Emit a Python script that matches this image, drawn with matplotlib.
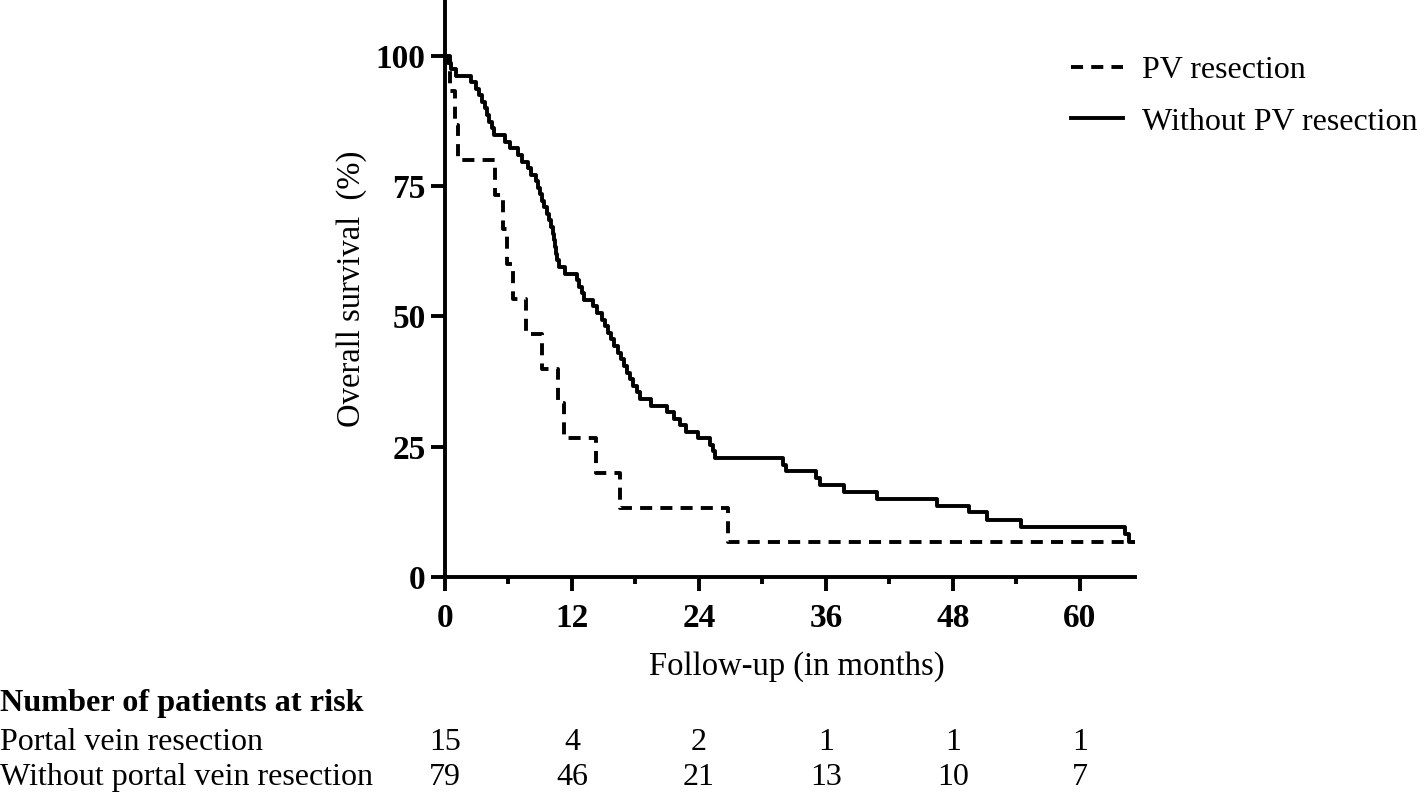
import matplotlib
matplotlib.use("Agg")
import matplotlib.pyplot as plt
from matplotlib.transforms import blended_transform_factory

plt.rcParams["font.family"] = ["Liberation Serif", "DejaVu Serif"]

# Kaplan-Meier steps (months, survival %)
pv_time = [0, 0.5, 0.9, 1.2, 4.7, 5.5, 5.85, 6.4, 7.7, 9.2, 10.7, 11.2,
           14.3, 16.5, 26.7, 65.2]
pv_surv = [100, 93.3, 86.7, 80.0, 73.3, 66.7, 60.0, 53.3, 46.7, 40.0, 33.3,
           26.7, 20.0, 13.3, 6.7, 6.7]

nopv_time = [0, 0.3, 0.6, 1.0, 2.5, 2.9, 3.2, 3.5, 3.8, 4.0, 4.2, 4.4, 4.6,
             5.7, 6.1, 6.9, 7.3, 7.8, 8.1, 8.6, 8.8, 9.0, 9.2, 9.4, 9.6,
             9.8, 10.0, 10.2, 10.3, 10.4, 10.5, 10.6, 10.8, 11.3, 12.5, 12.7,
             12.9, 13.1, 14.0, 14.4, 14.8, 15.1, 15.4, 15.7, 16.0, 16.3,
             16.6, 16.9, 17.2, 17.5, 17.8, 18.1, 18.4, 19.5, 21.0, 21.6,
             22.2, 22.8, 23.9, 25.0, 25.3, 25.5, 31.9, 32.2, 35.1, 35.4,
             37.7, 40.8, 46.5, 49.5, 51.2, 54.4, 64.3, 64.6, 65.2]
nopv_surv = [100, 98.7, 97.5, 96.2, 94.9, 93.7, 92.4, 91.1, 89.9, 88.6, 87.3,
             86.1, 84.8, 83.5, 82.3, 81.0, 79.7, 78.5, 77.2, 75.9, 74.7, 73.4,
             72.2, 70.9, 69.6, 68.4, 67.1, 65.8, 64.6, 63.3, 62.0, 60.8, 59.5,
             58.2, 57.0, 55.7, 54.4, 53.2, 51.9, 50.6, 49.4, 48.1, 46.8, 45.6,
             44.3, 43.0, 41.8, 40.5, 39.2, 38.0, 36.7, 35.4, 34.2, 32.9, 31.6,
             30.4, 29.1, 27.8, 26.6, 25.3, 24.1, 22.8, 21.5, 20.3, 19.0, 17.7,
             16.3, 15.0, 13.7, 12.4, 11.0, 9.6, 8.2, 6.7, 6.7]

x_ticks = [0, 12, 24, 36, 48, 60]
x_minor = [6, 18, 30, 42, 54]
y_ticks = [0, 25, 50, 75, 100]

risk_header = "Number of patients at risk"
risk_labels = ["Portal vein resection", "Without portal vein resection"]
risk_pv = [15, 4, 2, 1, 1, 1]
risk_nopv = [79, 46, 21, 13, 10, 7]

fig = plt.figure(figsize=(14.18, 7.94), dpi=100)
ax = fig.add_axes([445 / 1418, 217 / 794, 690 / 1418, 577 / 794])

lw = 2.8
ax.step(pv_time, pv_surv, where="post", color="black", lw=lw,
        linestyle=(0, (3.1, 2.1)), label="PV resection")
ax.step(nopv_time, nopv_surv, where="post", color="black", lw=lw,
        label="Without PV resection")

ax.set_xlim(0, 65.2)
ax.set_ylim(0, 110.7)
for side in ["top", "right"]:
    ax.spines[side].set_visible(False)
for side in ["left", "bottom"]:
    ax.spines[side].set_linewidth(lw)

ax.set_xticks(x_ticks)
ax.set_xticks(x_minor, minor=True)
ax.set_yticks(y_ticks)
ax.tick_params(axis="both", which="major", length=10, width=lw,
               labelsize=24)
ax.tick_params(axis="x", which="minor", length=5, width=lw)
ax.tick_params(axis="x", pad=9)
ax.tick_params(axis="y", pad=4)
for lab in ax.get_xticklabels() + ax.get_yticklabels():
    lab.set_fontweight("bold")

ax.set_ylabel("Overall survival  (%)", fontsize=23.5)
ax.yaxis.set_label_coords(-0.113, 0.5)
ax.set_xlabel("Follow-up (in months)", fontsize=23.5)
ax.xaxis.set_label_coords(0.51, -0.128)

ax.legend(loc="upper left", bbox_to_anchor=(0.755, 0.93),
          bbox_transform=fig.transFigure, frameon=False, fontsize=23,
          handlelength=1.65, handletextpad=0.6, labelspacing=0.7,
          borderpad=0, borderaxespad=0)

# number at risk table
fig.text(0.0, 0.1045, risk_header, fontsize=23.2, fontweight="bold",
         va="baseline")
row_y = [0.0554, 0.0113]
for lbl, yy in zip(risk_labels, row_y):
    fig.text(0.0, yy, lbl, fontsize=23, va="baseline")
trans = blended_transform_factory(ax.transData, fig.transFigure)
for counts, yy in zip([risk_pv, risk_nopv], row_y):
    for t, n in zip(x_ticks, counts):
        ax.text(t, yy, str(n), transform=trans, fontsize=23, ha="center",
                va="baseline", clip_on=False)

fig.savefig("out.png", dpi=100)
